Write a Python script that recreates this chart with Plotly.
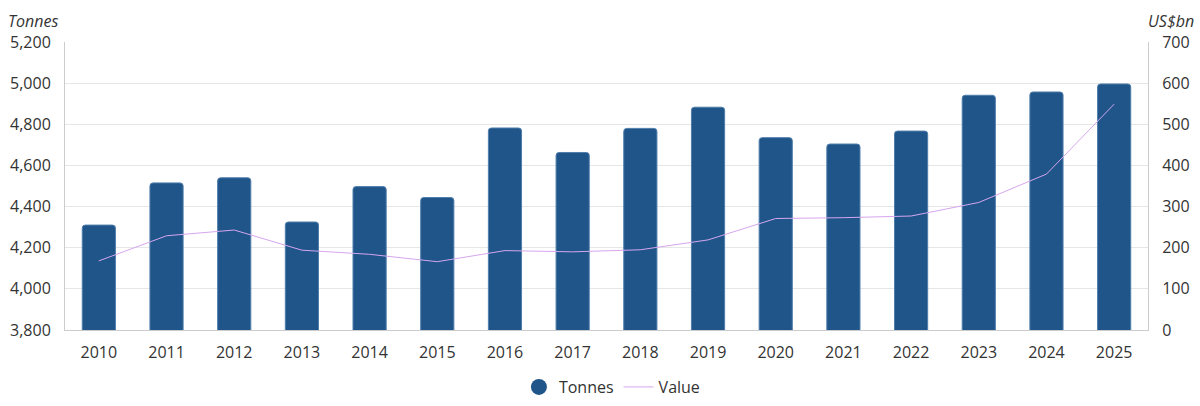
import plotly.graph_objects as go

years = [str(y) for y in range(2010, 2026)]
tonnes = [4310, 4515, 4540, 4325, 4497, 4444, 4782, 4663, 4780, 4883, 4735, 4704, 4767, 4941, 4957, 4996]
value_usbn = [168, 229, 243, 194, 184, 166, 193, 190, 195, 219, 271, 273, 277, 310, 379, 549]

BAR = "#20558a"
LINE = "#d6a6ee"
FONT = "Open Sans"
TXT = "#333333"

fig = go.Figure()
fig.add_trace(go.Bar(
    x=years, y=tonnes, name="Tonnes", marker=dict(color=BAR, line=dict(color="#4f7eab", width=1)),
    showlegend=False, yaxis="y",
))
fig.add_trace(go.Scatter(
    x=[None], y=[None], name="Tonnes", mode="markers",
    marker=dict(color=BAR, size=20, symbol="circle"), showlegend=True,
))
fig.add_trace(go.Scatter(
    x=years, y=value_usbn, name="Value", mode="lines",
    line=dict(color=LINE, width=1), yaxis="y2",
))

fig.update_layout(
    width=1200, height=406,
    margin=dict(l=65, r=52, t=42, b=76, autoexpand=False),
    paper_bgcolor="white", plot_bgcolor="white",
    font=dict(family=FONT, size=16, color=TXT),
    bargap=0.51,
    barcornerradius=3,
    xaxis=dict(
        type="category", showgrid=False, showline=True, linecolor="#cccccc", linewidth=1,
        ticks="", tickfont=dict(size=16, color=TXT), ticklabelstandoff=8, automargin=False,
    ),
    yaxis=dict(
        range=[3800, 5200], tickvals=list(range(3800, 5201, 200)), tickformat=",",
        showgrid=True, gridcolor="#e6e6e6", gridwidth=1, zeroline=False,
        showline=True, linecolor="#cccccc", linewidth=1, automargin=False,
        ticks="", ticklabelstandoff=10, tickfont=dict(size=16, color=TXT),
    ),
    yaxis2=dict(
        range=[0, 700], tickvals=list(range(0, 701, 100)), overlaying="y", side="right",
        showgrid=False, zeroline=False, showline=True, linecolor="#cccccc", linewidth=1,
        automargin=False,
        ticks="", ticklabelstandoff=10, tickfont=dict(size=16, color=TXT),
    ),
    legend=dict(
        orientation="h", x=0.505, xanchor="center", y=-0.198, yanchor="middle",
        font=dict(size=16, color=TXT), itemwidth=30,
    ),
    annotations=[
        dict(text="<i>Tonnes</i>", x=0, xref="paper", xanchor="left", xshift=-59,
             y=1, yref="paper", yanchor="bottom", yshift=8, showarrow=False,
             font=dict(size=16, color=TXT)),
        dict(text="<i>US$bn</i>", x=1, xref="paper", xanchor="right", xshift=48,
             y=1, yref="paper", yanchor="bottom", yshift=8, showarrow=False,
             font=dict(size=16, color=TXT)),
    ],
)

fig.write_html(
    "out.html",
    config={"displayModeBar": False},
    post_script="document.body.style.margin='0';document.body.style.overflow='hidden';",
)
